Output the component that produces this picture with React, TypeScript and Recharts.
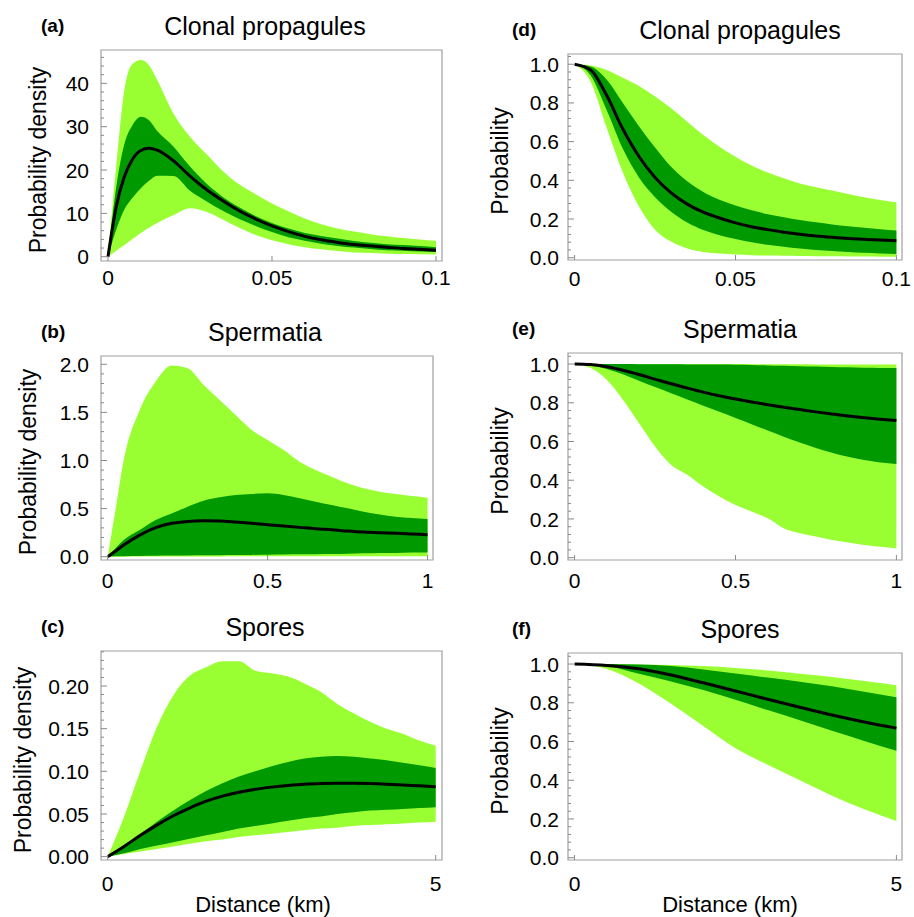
import React from 'react';
import { ComposedChart, Area, Line, XAxis, YAxis, ReferenceArea } from 'recharts';

const LIGHT = '#99ff33';
const DARK = '#009900';
const FONT = '"Liberation Sans", Arial, Helvetica, sans-serif';

// (a) clonal propagules, probability density
const aX = [0, 0.0025, 0.005, 0.0075, 0.01, 0.0125, 0.015, 0.02, 0.025, 0.03, 0.035, 0.04, 0.045, 0.05, 0.055, 0.06, 0.065, 0.07, 0.075, 0.08, 0.085, 0.09, 0.095, 0.1];
const aOuterHi = [0, 20.8, 38.5, 44.5, 45.4, 44.2, 40.8, 33, 27.7, 23.7, 19.8, 16.7, 14.4, 12.3, 10.5, 8.8, 7.5, 6.5, 5.8, 5.2, 4.7, 4.3, 4, 3.7];
const aOuterLo = [0, 1.4, 2.7, 4.1, 5.5, 6.7, 7.8, 9.6, 11.2, 10.4, 8.6, 6.7, 5, 3.8, 2.9, 2.2, 1.7, 1.3, 1, 0.85, 0.7, 0.6, 0.55, 0.5];
const aInnerHi = [0, 16, 26, 30.4, 32.3, 31.5, 29, 25.4, 20.8, 16.9, 13.8, 11.4, 9.4, 7.8, 6.5, 5.5, 4.8, 4.2, 3.6, 3.2, 2.9, 2.7, 2.5, 2.2];
const aInnerLo = [0, 6.2, 10.9, 13.6, 15.8, 17.5, 18.7, 18.6, 15.2, 12.8, 10.6, 8.7, 7.1, 5.7, 4.5, 3.7, 3, 2.5, 2.1, 1.8, 1.5, 1.4, 1.2, 1.1];
const aMedian = [0, 11.5, 18.5, 22.5, 24.5, 25, 24.6, 22.1, 18.6, 15.5, 12.9, 10.6, 8.7, 7.1, 5.8, 4.7, 3.9, 3.3, 2.8, 2.5, 2.2, 1.9, 1.7, 1.5];

// (b) spermatia, probability density
const bX = [0, 0.025, 0.05, 0.1, 0.15, 0.2, 0.25, 0.3, 0.35, 0.4, 0.45, 0.5, 0.55, 0.6, 0.65, 0.7, 0.75, 0.8, 0.85, 0.9, 0.95, 1];
const bOuterHi = [0, 0.5, 1.005, 1.525, 1.82, 1.986, 1.958, 1.785, 1.63, 1.473, 1.317, 1.213, 1.109, 0.988, 0.901, 0.832, 0.763, 0.711, 0.676, 0.652, 0.631, 0.614];
const bOuterLo = [0, 0.001, 0.001, 0.002, 0.002, 0.002, 0.003, 0.003, 0.003, 0.004, 0.004, 0.004, 0.004, 0.005, 0.005, 0.005, 0.005, 0.006, 0.006, 0.006, 0.006, 0.006];
const bInnerHi = [0, 0.09, 0.173, 0.277, 0.381, 0.45, 0.52, 0.582, 0.617, 0.641, 0.652, 0.659, 0.641, 0.607, 0.572, 0.537, 0.503, 0.468, 0.44, 0.416, 0.402, 0.392];
const bInnerLo = [0, 0.004, 0.006, 0.008, 0.01, 0.012, 0.013, 0.015, 0.016, 0.018, 0.019, 0.021, 0.023, 0.025, 0.027, 0.029, 0.032, 0.035, 0.038, 0.04, 0.043, 0.045];
const bMedian = [0, 0.06, 0.121, 0.225, 0.302, 0.347, 0.367, 0.374, 0.371, 0.36, 0.347, 0.333, 0.319, 0.305, 0.291, 0.281, 0.267, 0.256, 0.25, 0.243, 0.236, 0.229];

// (c) spores, probability density
const cX = [0, 0.25, 0.5, 0.75, 1, 1.25, 1.5, 1.75, 2, 2.25, 2.5, 2.75, 3, 3.25, 3.5, 3.75, 4, 4.25, 4.5, 4.75, 5];
const cOuterHi = [0, 0.047, 0.101, 0.152, 0.189, 0.212, 0.222, 0.229, 0.229, 0.218, 0.215, 0.211, 0.203, 0.193, 0.179, 0.168, 0.158, 0.15, 0.144, 0.136, 0.13];
const cOuterLo = [0, 0.003, 0.006, 0.009, 0.012, 0.015, 0.018, 0.02, 0.023, 0.025, 0.027, 0.029, 0.031, 0.033, 0.034, 0.036, 0.037, 0.038, 0.039, 0.04, 0.041];
const cInnerHi = [0, 0.014, 0.027, 0.041, 0.054, 0.066, 0.077, 0.086, 0.094, 0.1, 0.106, 0.111, 0.115, 0.117, 0.118, 0.117, 0.115, 0.113, 0.11, 0.107, 0.104];
const cInnerLo = [0, 0.004, 0.009, 0.013, 0.017, 0.021, 0.025, 0.029, 0.033, 0.036, 0.039, 0.042, 0.045, 0.047, 0.05, 0.052, 0.054, 0.055, 0.056, 0.057, 0.058];
const cMedian = [0, 0.012, 0.025, 0.037, 0.048, 0.057, 0.065, 0.071, 0.0755, 0.079, 0.0815, 0.0835, 0.085, 0.0857, 0.086, 0.086, 0.0857, 0.085, 0.084, 0.083, 0.082];

// (d) clonal propagules, probability
const dX = [0, 0.005, 0.01, 0.015, 0.02, 0.025, 0.03, 0.035, 0.04, 0.045, 0.05, 0.055, 0.06, 0.065, 0.07, 0.075, 0.08, 0.085, 0.09, 0.095, 0.1];
const dOuterHi = [1, 0.993, 0.97, 0.93, 0.888, 0.833, 0.772, 0.703, 0.634, 0.574, 0.522, 0.476, 0.44, 0.41, 0.384, 0.364, 0.347, 0.329, 0.312, 0.298, 0.286];
const dOuterLo = [1, 0.91, 0.67, 0.44, 0.265, 0.145, 0.083, 0.048, 0.03, 0.021, 0.016, 0.013, 0.011, 0.01, 0.009, 0.008, 0.007, 0.006, 0.006, 0.005, 0.005];
const dInnerHi = [1, 0.988, 0.92, 0.8, 0.68, 0.57, 0.47, 0.395, 0.34, 0.3, 0.27, 0.245, 0.225, 0.209, 0.195, 0.183, 0.172, 0.163, 0.155, 0.147, 0.14];
const dInnerLo = [1, 0.942, 0.762, 0.563, 0.415, 0.313, 0.238, 0.182, 0.143, 0.116, 0.096, 0.08, 0.067, 0.056, 0.047, 0.04, 0.034, 0.029, 0.025, 0.022, 0.019];
const dMedian = [1, 0.97, 0.838, 0.665, 0.523, 0.415, 0.335, 0.277, 0.235, 0.205, 0.18, 0.16, 0.145, 0.132, 0.121, 0.112, 0.105, 0.099, 0.095, 0.091, 0.088];

// (e) spermatia, probability
const eX = [0, 0.05, 0.1, 0.15, 0.2, 0.25, 0.3, 0.35, 0.4, 0.45, 0.5, 0.55, 0.6, 0.65, 0.7, 0.75, 0.8, 0.85, 0.9, 0.95, 1];
const eOuterHi = [1, 1, 1, 1, 1, 1, 1, 1, 1, 1, 1, 0.999, 0.999, 0.999, 0.999, 0.998, 0.998, 0.998, 0.998, 0.998, 0.998];
const eOuterLo = [1, 0.979, 0.919, 0.816, 0.695, 0.574, 0.479, 0.428, 0.367, 0.316, 0.272, 0.238, 0.203, 0.152, 0.126, 0.109, 0.091, 0.078, 0.066, 0.057, 0.048];
const eInnerHi = [1, 1, 1, 1, 0.999, 0.999, 0.999, 0.998, 0.998, 0.997, 0.996, 0.995, 0.993, 0.991, 0.989, 0.987, 0.985, 0.983, 0.981, 0.98, 0.979];
const eInnerLo = [1, 0.993, 0.975, 0.947, 0.914, 0.881, 0.849, 0.817, 0.785, 0.753, 0.721, 0.689, 0.657, 0.625, 0.595, 0.567, 0.542, 0.521, 0.504, 0.492, 0.484];
const eMedian = [1, 0.997, 0.986, 0.968, 0.946, 0.922, 0.898, 0.876, 0.855, 0.836, 0.819, 0.804, 0.79, 0.777, 0.765, 0.753, 0.742, 0.732, 0.723, 0.715, 0.708];

// (f) spores, probability
const fX = [0, 0.5, 1, 1.5, 2, 2.5, 3, 3.5, 4, 4.5, 5];
const fOuterHi = [1, 1, 0.998, 0.995, 0.99, 0.98, 0.967, 0.95, 0.933, 0.912, 0.89];
const fOuterLo = [1, 0.975, 0.9, 0.795, 0.68, 0.565, 0.48, 0.4, 0.32, 0.25, 0.19];
const fInnerHi = [1, 1, 0.997, 0.99, 0.972, 0.951, 0.93, 0.909, 0.885, 0.857, 0.828];
const fInnerLo = [1, 0.99, 0.95, 0.91, 0.866, 0.815, 0.762, 0.71, 0.655, 0.603, 0.552];
const fMedian = [1, 0.993, 0.976, 0.943, 0.903, 0.861, 0.818, 0.777, 0.737, 0.701, 0.669];

// tick labels
const aXTicks = [0, 0.05, 0.1];
const bXTicks = [0, 0.5, 1];
const cXTicks = [0, 5];
const aYTicks = [0, 10, 20, 30, 40];
const bYTicks = [0, 0.5, 1, 1.5, 2];
const cYTicks = [0, 0.05, 0.1, 0.15, 0.2];
const probYTicks = [0, 0.2, 0.4, 0.6, 0.8, 1];

const steps = (from: number, to: number, step: number) => {
  const out: number[] = [];
  for (let v = from; v <= to + step / 1000; v += step) out.push(+v.toFixed(6));
  return out;
};

const rows = (xs: number[], oLo: number[], oHi: number[], iLo: number[], iHi: number[], med: number[]) =>
  xs.map((x, i) => ({ x, outer: [oLo[i], oHi[i]], inner: [iLo[i], iHi[i]], median: med[i] }));

const isIn = (list: number[], v: number) => list.some((m) => Math.abs(m - v) < 1e-9);

const str = (v: number) => String(v);
const fix1 = (v: number) => v.toFixed(1);
const fix2 = (v: number) => v.toFixed(2);

const panels = [
  {
    tag: '(a)', title: 'Clonal propagules', yLabel: 'Probability density', col: 0, colW: 460,
    box: { l: 101, t: 50, r: 442, b: 261 }, xDomain: [-0.00213, 0.10183], yDomain: [-0.99, 47.7],
    xTicks: aXTicks, yTicks: aYTicks, yMinor: steps(0, 46, 2), fmtY: str, gapX: 16, gapY: 12,
    yLabelX: 38, data: rows(aX, aOuterLo, aOuterHi, aInnerLo, aInnerHi, aMedian),
  },
  {
    tag: '(b)', title: 'Spermatia', yLabel: 'Probability density', col: 0, colW: 460,
    box: { l: 101, t: 356, r: 433, b: 560 }, xDomain: [-0.021, 1.017], yDomain: [-0.034, 2.086],
    xTicks: bXTicks, yTicks: bYTicks, yMinor: steps(0, 2, 0.1), fmtY: fix1, gapX: 20, gapY: 12,
    yLabelX: 28, data: rows(bX, bOuterLo, bOuterHi, bInnerLo, bInnerHi, bMedian),
  },
  {
    tag: '(c)', title: 'Spores', yLabel: 'Probability density', col: 0, colW: 460,
    box: { l: 101, t: 651, r: 442, b: 860 }, xDomain: [-0.102, 5.096], yDomain: [-0.0039, 0.241],
    xTicks: cXTicks, yTicks: cYTicks, yMinor: steps(0, 0.24, 0.01), fmtY: fix2, gapX: 23, gapY: 12,
    yLabelX: 23, xLabel: 'Distance (km)', data: rows(cX, cOuterLo, cOuterHi, cInnerLo, cInnerHi, cMedian),
  },
  {
    tag: '(d)', title: 'Clonal propagules', yLabel: 'Probability', col: 460, colW: 454,
    box: { l: 568, t: 54, r: 902, b: 260 }, xDomain: [-0.00205, 0.10174], yDomain: [-0.012, 1.053],
    xTicks: aXTicks, yTicks: probYTicks, yMinor: steps(0, 1.04, 0.04), fmtY: fix1, gapX: 18, gapY: 9,
    yLabelX: 500, data: rows(dX, dOuterLo, dOuterHi, dInnerLo, dInnerHi, dMedian),
  },
  {
    tag: '(e)', title: 'Spermatia', yLabel: 'Probability', col: 460, colW: 454,
    box: { l: 568, t: 353, r: 902, b: 560 }, xDomain: [-0.0205, 1.0174], yDomain: [-0.012, 1.057],
    xTicks: bXTicks, yTicks: probYTicks, yMinor: steps(0, 1.04, 0.04), fmtY: fix1, gapX: 20, gapY: 9,
    yLabelX: 500, data: rows(eX, eOuterLo, eOuterHi, eInnerLo, eInnerHi, eMedian),
  },
  {
    tag: '(f)', title: 'Spores', yLabel: 'Probability', col: 460, colW: 454,
    box: { l: 568, t: 653, r: 902, b: 860 }, xDomain: [-0.102, 5.087], yDomain: [-0.012, 1.057],
    xTicks: cXTicks, yTicks: probYTicks, yMinor: steps(0, 1.04, 0.04), fmtY: fix1, gapX: 23, gapY: 9,
    yLabelX: 500, xLabel: 'Distance (km)', data: rows(fX, fOuterLo, fOuterHi, fInnerLo, fInnerHi, fMedian),
  },
];

const Txt = ({ x, y, size, bold, rotate, left, children }: any) => (
  <div
    style={{
      position: 'absolute', left: x, top: y, fontSize: size, fontWeight: bold ? 'bold' : 'normal',
      whiteSpace: 'nowrap', lineHeight: 1, color: '#000',
      transform: `translate(${left ? '0' : '-50%'}, -50%)${rotate ? ' rotate(-90deg)' : ''}`,
    }}
  >
    {children}
  </div>
);

const Panel = ({ p }: any) => {
  const top = p.box.t - 4;
  const plotH = p.box.b - p.box.t;
  const height = plotH + 4 + 40;
  const yTickFn = (t: any) => {
    const v = t.payload.value;
    const major = isIn(p.yTicks, v);
    const bx = t.x + p.gapY;
    return (
      <g>
        <line x1={bx} x2={bx + (major ? 6 : 3)} y1={t.y} y2={t.y} stroke="#8a8a8a" strokeWidth={1} />
        {major && (
          <text x={t.x} y={t.y} dy="0.36em" textAnchor="end" fontSize={21} fontFamily={FONT} fill="#000">
            {p.fmtY(v)}
          </text>
        )}
      </g>
    );
  };
  const xTickFn = (t: any) => {
    const v = t.payload.value;
    const by = t.y - p.gapX;
    return (
      <g>
        <line x1={t.x} x2={t.x} y1={by} y2={by - 5} stroke="#8a8a8a" strokeWidth={1} />
        <text x={t.x} y={t.y} dy="0.36em" textAnchor="middle" fontSize={21} fontFamily={FONT} fill="#000">
          {String(v)}
        </text>
      </g>
    );
  };
  return (
    <>
      <div style={{ position: 'absolute', left: p.col, top }}>
        <ComposedChart
          width={p.colW}
          height={height}
          data={p.data}
          margin={{ top: 4, right: p.col + p.colW - p.box.r, bottom: 0, left: 0 }}
        >
          <XAxis
            dataKey="x"
            type="number"
            domain={p.xDomain}
            allowDataOverflow
            ticks={p.xTicks}
            interval={0}
            height={40}
            tickSize={0}
            tickMargin={p.gapX}
            axisLine={false}
            tick={xTickFn}
          />
          <YAxis
            type="number"
            domain={p.yDomain}
            allowDataOverflow
            ticks={p.yMinor}
            interval={0}
            width={p.box.l - p.col}
            tickSize={0}
            tickMargin={p.gapY}
            axisLine={false}
            tick={yTickFn}
          />
          <Area dataKey="outer" type="monotone" stroke="none" fill={LIGHT} fillOpacity={1} dot={false} activeDot={false} isAnimationActive={false} />
          <Area dataKey="inner" type="monotone" stroke="none" fill={DARK} fillOpacity={1} dot={false} activeDot={false} isAnimationActive={false} />
          <Line dataKey="median" type="monotone" stroke="#000" strokeWidth={3} dot={false} activeDot={false} isAnimationActive={false} />
          <ReferenceArea
            x1={p.xDomain[0]}
            x2={p.xDomain[1]}
            y1={p.yDomain[0]}
            y2={p.yDomain[1]}
            fill="none"
            stroke="#a0a0a0"
            strokeWidth={1.2}
            ifOverflow="visible"
          />
        </ComposedChart>
      </div>
      <Txt x={p.col === 0 ? 265 : 740} y={p.box.t - 24} size={25}>{p.title}</Txt>
      <Txt x={p.col === 0 ? 41 : 512} y={p.box.t - 25} size={19} bold left>{p.tag}</Txt>
      <Txt x={p.yLabelX} y={(p.box.t + p.box.b) / 2 + 4} size={23} rotate>{p.yLabel}</Txt>
      {p.xLabel && (
        <Txt x={p.col === 0 ? 263 : 730} y={p.box.b + 45} size={22}>{p.xLabel}</Txt>
      )}
    </>
  );
};

export default function App() {
  return (
    <div
      style={{
        position: 'absolute', left: 0, top: 0, width: 914, height: 917,
        background: '#fff', fontFamily: FONT, overflow: 'hidden',
      }}
    >
      {panels.map((p) => (
        <Panel key={p.tag} p={p} />
      ))}
    </div>
  );
}
